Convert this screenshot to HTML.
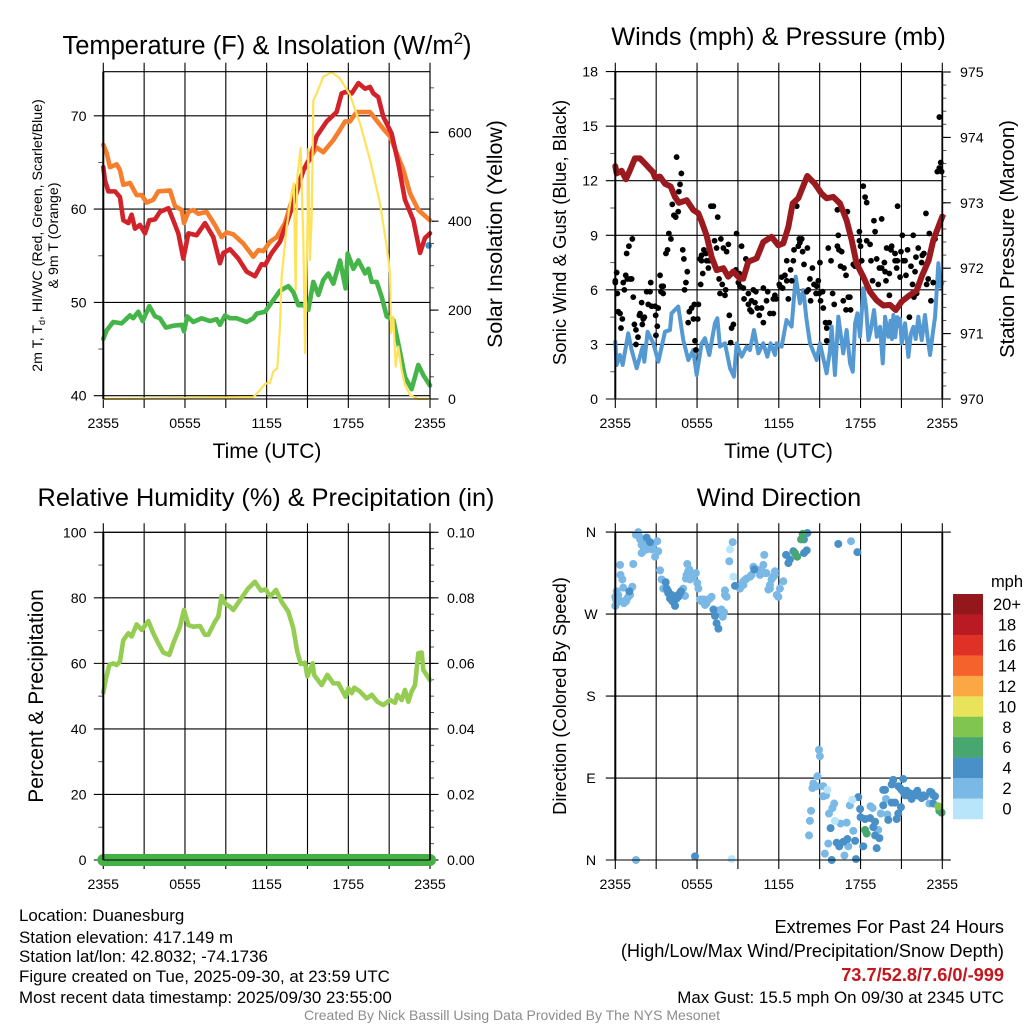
<!DOCTYPE html>
<html lang="en">
<head>
<meta charset="utf-8">
<title>Duanesburg Mesonet Meteogram</title>
<style>
html,body{margin:0;padding:0;background:#fff}
svg{display:block}
text{font-family:"Liberation Sans",Arial,sans-serif;fill:#000}
</style>
</head>
<body>
<svg id="fig" xmlns="http://www.w3.org/2000/svg" width="1024" height="1024" viewBox="0 0 1024 1024">
<rect x="0" y="0" width="1024" height="1024" fill="#fff"/>
<g id="layers"></g>

<text x="267" y="54" font-size="25.5" text-anchor="middle">Temperature (F) &amp; Insolation (W/m<tspan dy="-10" font-size="17">2</tspan><tspan dy="10">)</tspan></text>
<text x="778.5" y="45" font-size="25.3" text-anchor="middle">Winds (mph) &amp; Pressure (mb)</text>
<text x="266" y="506" font-size="25.3" text-anchor="middle">Relative Humidity (%) &amp; Precipitation (in)</text>
<text x="779" y="506" font-size="25.3" text-anchor="middle">Wind Direction</text>

<text x="267" y="458" font-size="21" text-anchor="middle">Time (UTC)</text>
<text x="778.5" y="458" font-size="21" text-anchor="middle">Time (UTC)</text>

<text transform="translate(42 235.5) rotate(-90)" font-size="14.2" text-anchor="middle">2m T, T<tspan dy="3" font-size="9">d</tspan><tspan dy="-3">, HI/WC (Red, Green, Scarlet/Blue)</tspan></text>
<text transform="translate(58 235.5) rotate(-90)" font-size="14.2" text-anchor="middle">&amp; 9m T (Orange)</text>
<text transform="translate(502 234) rotate(-90)" font-size="21.3" text-anchor="middle">Solar Insolation (Yellow)</text>
<text transform="translate(566 232.5) rotate(-90)" font-size="18.5" text-anchor="middle">Sonic Wind &amp; Gust (Blue, Black)</text>
<text transform="translate(1014 239) rotate(-90)" font-size="20.3" text-anchor="middle">Station Pressure (Maroon)</text>
<text transform="translate(43 696) rotate(-90)" font-size="21" text-anchor="middle">Percent &amp; Precipitation</text>
<text transform="translate(566 696) rotate(-90)" font-size="18.3" text-anchor="middle">Direction (Colored By Speed)</text>

<g font-size="16.9">
<text x="19" y="921">Location: Duanesburg</text>
<text x="19" y="943">Station elevation: 417.149 m</text>
<text x="19" y="962">Station lat/lon: 42.8032; -74.1736</text>
<text x="19" y="982">Figure created on Tue, 2025-09-30, at 23:59 UTC</text>
<text x="19" y="1003">Most recent data timestamp: 2025/09/30 23:55:00</text>
</g>
<g text-anchor="end">
<text x="1004" y="933" font-size="18.2">Extremes For Past 24 Hours</text>
<text x="1004" y="957" font-size="18.2">(High/Low/Max Wind/Precipitation/Snow Depth)</text>
<text x="1004" y="981" font-size="18.2" font-weight="bold" style="fill:#c4161c">73.7/52.8/7.6/0/-999</text>
<text x="1004" y="1003" font-size="16.9">Max Gust: 15.5 mph On 09/30 at 2345 UTC</text>
</g>
<text x="512" y="1020" font-size="14" text-anchor="middle" style="fill:#8c8c8c">Created By Nick Bassill Using Data Provided By The NYS Mesonet</text>
</svg>

<script>
// ---- Shared tick labels ----
const timeTickLabels = ['2355','0555','1155','1755','2355'];
const tempTicks = [70,60,50,40];
const solarTicks = [0,200,400,600];
const windTicks = [0,3,6,9,12,15,18];
const pressureTicks = [970,971,972,973,974,975];
const humidityTicks = [0,20,40,60,80,100];
const precipTicks = [0,0.02,0.04,0.06,0.08,0.10];
const directionTickLabels = ['N','E','S','W','N'];
const directionTickDegrees = [0,90,180,270,360];
const speedLegendLabels = ['20+','18','16','14','12','10','8','6','4','2','0'];
const speedLegendColors = ['#94171b','#ba1a24','#e03127','#f5622b','#fba844','#e8e35a','#7fc550','#47a76f','#4a90c8','#7ab8e6','#b8e5fa'];

// ---- Temperature panel data (hours since 2355, deg F) ----
const tempHours = [0,.12,.37,.86,1.22,1.47,1.84,2.08,2.33,2.69,3.06,3.38,3.8,4.16,4.78,5.14,5.51,5.88,6.25,6.86,7.47,8.08,8.57,8.82,9.31,9.92,10.53,11.14,11.63,11.88,12.37,12.98,13.47,13.96,14.7,15.18,15.67,16.41,17.14,17.51,17.88,18.25,18.74,19.23,19.59,19.84,20.2,20.57,21.18,21.67,22.16,22.78,23.27,23.63,24];
const tempValues = [64.5,63.1,61.9,61.9,61.3,58.8,58.5,59.4,57.9,58.3,57.4,58.8,58.9,59.7,60.1,58.8,57.4,54.7,57.4,57.2,58.5,57,54.2,55.3,55.7,54.7,53.3,52.8,54.1,54,55.3,56.5,58.5,60.6,64.2,65.4,67.8,69.4,70.4,72.4,72.6,72.4,73.5,72.9,73.1,72.4,72,69.9,68.1,64.9,61,58.8,55.3,56.9,57.4];
const temp9mHours = [0,.25,.49,.98,1.22,1.47,1.96,2.45,2.82,3.18,3.67,4.04,4.9,5.27,5.76,5.93,6.25,6.61,6.98,7.59,8.2,8.69,9.06,9.55,10.29,11.02,11.39,11.76,12.25,12.74,13.35,13.72,14.33,14.94,15.67,16.16,16.9,17.39,17.76,18.12,18.61,19.59,20.08,20.57,21.06,21.55,22.04,22.53,23.14,24];
const temp9mValues = [66.9,66,64.5,64.8,64.2,62.6,62.8,61.5,61.5,60.7,61,61.9,62,60.3,59.9,58.5,59.7,59.9,59.5,59.7,58.3,57,57.5,57.3,56.3,54.9,55.6,55.5,56.5,57,58.5,60.3,62.8,64.9,66.6,66.1,67.4,68.5,69.4,69.4,70.4,70.4,69.5,68.6,67.8,66,64.2,61.7,59.9,58.8];
const dewHours = [0,.24,.73,1.35,1.96,2.2,2.57,2.89,3.38,3.8,4.16,4.6,5.14,5.76,5.93,6.17,6.61,7.22,7.84,8.33,8.57,8.94,9.31,9.8,10.53,11.02,11.27,11.88,12.49,12.98,13.59,13.96,14.33,14.7,15.06,15.43,15.8,16.16,16.53,16.9,17.39,17.8,17.95,18.37,18.74,19.23,19.47,19.72,20.08,20.45,20.82,21.31,21.67,22.16,22.65,23.14,23.51,24];
const dewValues = [46.1,47,47.9,47.75,48.6,48.3,49,48,49.6,48.5,48.3,47.3,47.5,47.6,46.9,48.5,47.9,48.3,48,48.2,47.6,48.6,48.3,48.3,47.9,48.3,48.8,49,50.25,51.25,51.75,51.1,49.7,49.7,49.2,52.2,50.8,52.4,53.1,52,54.5,51.5,55.25,53.6,54.5,53.1,53.6,52.2,52.2,50.6,48.5,48.1,45.6,42,40.7,43.3,42.2,41.1];
const solarHours = [0,11.02,11.51,11.88,12.25,12.49,12.78,12.98,13.1,13.47,13.84,14,14.13,14.25,14.5,14.7,14.82,15,15.06,15.18,15.31,15.43,15.67,16.16,16.78,17.39,18.12,18.86,19.59,20.33,20.82,21.06,21.14,21.31,21.48,21.67,21.92,22.16,22.53,23.14,24];
const solarValues = [0,4,20,34,37,62,69,163,275,388,463,485,245,500,565,350,103,388,563,313,410,672,687,725,735,721,684,620,538,440,343,283,148,185,73,118,65,32,9,0,0];
const chillHours = [23.9];
const chillValues = [56.1];

// ---- Winds panel data ----
const windHours = [0,.1,.34,.54,.95,1.2,1.57,2.01,2.13,2.37,2.79,3.16,3.65,4.01,4.13,4.62,4.99,5.11,5.36,5.72,5.97,6.34,6.58,6.9,7.31,7.49,7.68,8.05,8.42,8.71,8.91,9.27,9.64,9.88,10.18,10.5,10.86,11.16,11.4,11.72,11.84,12.21,12.57,12.94,13.24,13.55,13.8,14.04,14.29,14.78,15.02,15.51,15.76,15.88,16.12,16.37,16.73,16.98,17.23,17.43,17.6,17.77,17.96,18.21,18.4,18.58,18.75,18.99,19.19,19.43,19.63,19.8,20.04,20.2,20.3,20.41,20.55,20.7,20.78,20.9,21.02,21.27,21.51,21.7,21.88,22.05,22.24,22.49,22.73,22.9,23.1,23.3,23.47,23.71,23.88,24];
const windValues = [3.15,1.87,2.42,1.87,3.61,2.69,1.69,2.88,2.05,3.7,3.06,2.05,3.7,3.79,4.71,5.08,3.24,2.88,2.14,2.69,1.32,3.06,3.34,2.42,4.16,4.44,2.88,3.06,1.69,1.23,3.06,2.33,2.88,2.69,3.79,2.51,3.06,2.33,3.06,2.42,3.06,2.88,4.34,3.98,6.73,5.26,5.99,4.34,3.06,2.14,3.06,1.41,2.69,3.98,1.32,4.53,2.51,3.79,1.96,1.5,4.16,4.71,3.42,6.08,5.07,3.24,3.79,4.89,3.42,3.97,1.96,4.52,3.42,4.3,3.3,4.62,3.4,4.5,4,4.4,3.06,4.16,2.32,3.6,3.97,3.3,4.52,3.24,4.62,3.5,2.42,3.6,4.52,7.46,6.17,6.4];
const gustMinutes = [0,6,0,9,13,21,31,25,50,60,75,46,53,65,72,35,40,79,116,109,106,128,123,119,84,91,100,91,156,138,153,145,160,175,189,178,185,179,197,211,204,201,211,223,230,236,245,270,291,285,280,251,277,258,266,297,302,317,311,305,366,348,336,326,321,344,363,351,355,421,432,451,465,437,446,498,476,490,380,373,390,399,380,402,414,410,385,376,457,471,486,461,483,502,520,512,508,534,556,575,531,527,546,542,549,564,567,586,608,619,600,586,593,600,615,625,644,652,671,666,634,652,681,696,703,696,708,722,733,747,755,725,737,755,772,777,762,787,799,810,821,813,806,825,846,784,831,868,901,857,894,875,887,850,843,884,898,913,860,904,916,926,942,931,931,938,950,957,964,978,982,978,985,997,992,1007,1016,1004,1026,1033,1016,1036,1048,1056,1022,1075,1075,1080,1092,1100,1107,1107,1122,1085,1092,1126,1151,1133,1158,1139,1144,1173,1163,1185,1173,1188,1207,1192,1207,1195,1217,1214,1232,1243,1232,1242,1239,1254,1258,1264,1268,1276,1280,1287,1312,1320,1295,1302,1309,1324,1334,1327,1315,1352,1359,1349,1368,1378,1378,1383,1371,1390,1400,1408,1427,1433,1418,1427,1437];
const gustValues = [6.4,6.95,6.5,5.8,4.8,4.7,4.4,3.9,8,8.4,8.8,6.8,6.6,6.6,6.6,6.4,6,5.6,5.3,4.7,4.6,4.5,4.4,4.1,4.1,3.8,3.4,3,6.4,5.9,5.9,5.2,5.1,5.1,5,4.6,4,3.5,6.8,6.2,6.2,5.9,5.8,8,8.2,9.1,8.8,13.3,12.4,11.8,11.4,10.7,10.3,10.1,10,8.2,7.7,7,6.4,6,5.2,5.2,5,4.8,4.2,4.4,4.4,3.2,2.7,10.6,10.6,10,8.8,8.7,8.3,8.5,8.3,8.1,7.9,7.7,8.2,8,7.6,7.6,7.6,7.2,6.9,6.3,6.6,6.3,6,5.8,5.7,4.6,4.1,3.9,3.1,9.1,8.4,7.7,7.1,7,6.9,6.4,6.2,6.1,5.5,5.8,6,5.9,5.4,5.2,4.9,4.8,5.3,5,5,6.1,5.9,5.4,4.6,4.2,4.7,4.7,5.7,5.5,5.5,6.3,6.7,6.8,7.6,6.2,6.1,6.5,7.1,6.5,5.5,8.2,10.6,8.8,8.8,8.6,8.4,8.1,8.3,7.6,7.4,7.2,7.5,6.6,6.5,6.3,6.2,6,5.9,5.8,5.8,5.9,5.4,5.4,5,4.2,4.2,3.9,3.2,8.3,7.6,5.8,5.2,10.4,9,8.4,8.2,8.1,7.3,7.2,6.8,5.4,5.6,5.6,4.9,4.9,7.4,7.3,10.3,9.2,8.7,8.4,11.7,11.1,10.8,8.7,8.5,7.6,6.7,7.6,7.7,6.5,6.3,9.8,9.2,9.9,7.2,7.5,7.2,7,6.9,6.5,5.7,8.3,8.4,8.2,8,10.6,7.6,7.6,7.2,6.7,8.1,9,7.6,7.6,6.8,8.2,9,7,4.5,7.3,6.3,7.8,8.3,5.8,5.6,7.9,8,7.5,10.2,7.6,6.6,9.1,6.3,5.4,6.4,8.8,15.5,13,12.5,12.7,12.5];
const pressureHours = [0,.1,.46,.78,1.08,1.44,1.81,2.18,2.76,2.91,3.28,3.65,4.06,4.38,4.67,5.24,5.72,6.09,6.34,6.7,7.07,7.44,7.93,8.29,8.66,9.15,9.39,9.76,10.37,10.86,11.47,11.96,12.33,12.7,13.02,13.43,14.09,14.65,15.14,15.51,16,16.49,16.98,17.35,17.71,18.2,18.69,19.18,19.67,20.16,20.58,21.02,21.5,22.12,22.48,23,23.34,24];
const pressureValues = [973.56,973.45,973.49,973.36,973.5,973.68,973.68,973.6,973.47,973.39,973.4,973.29,973.25,973.09,973,973.04,972.89,972.84,972.71,972.5,972.17,971.97,972,971.87,971.95,971.84,971.84,972.1,972.15,972.4,972.48,972.35,972.38,972.63,972.99,973.07,973.41,973.29,973.14,973.07,973.09,972.99,972.73,972.43,972.07,971.87,971.64,971.51,971.43,971.44,971.36,971.49,971.57,971.66,971.87,972.12,972.43,972.79];

// ---- Humidity panel data ----
const humidityHours = [0,.2,.44,.73,.98,1.22,1.47,1.84,2.08,2.45,2.82,3.31,3.67,4.04,4.41,4.85,5.14,5.63,5.93,6.25,6.61,7.1,7.47,7.71,8.2,8.45,8.69,8.94,9.31,9.55,10.04,10.65,11.14,11.58,11.93,12.25,12.69,13.1,13.59,13.96,14.25,14.5,14.82,14.99,15.38,15.48,16.04,16.46,16.9,17.27,17.8,18,18.25,18.44,18.86,19.35,19.72,20.13,20.57,21.06,21.43,21.6,21.92,22.16,22.41,22.65,22.9,23.14,23.39,23.51,24];
const humidityValues = [51.1,55.4,59.5,60,59.5,60.5,67.1,69.2,68.2,71.9,70.2,72.9,69.2,66.1,63.3,62.6,66.1,71.2,76.3,71.7,71.2,71.4,68.7,68.7,72.7,74.3,80.6,78.3,77.3,76.3,79.3,82.9,84.9,82.2,82.6,80.4,82.4,78.8,75.8,70.7,63.6,59.8,60.2,56,60,56.5,53.4,56.5,53.9,53.9,49.8,52.4,50.9,52.6,51.4,49.3,50.4,48.3,47.3,48.8,48,50.4,48.8,51.9,48.3,51.4,53.4,63.1,63.3,58,54.9];
const precipHours = [0,24];
const precipValues = [0,0];

// ---- Wind direction data (minutes since 2355, degrees), one pair of arrays per speed class ----
const dir2mphMinutes = [126,145,160,123,106,13,3,28,57,47,321,336,311,344,380,390,402,417,385,454,479,483,593,574,556,542,622,644,659,600,564,696,703,681,91,101,109,116,123,116,138,153,167,185,189,175,21,79,23,31,35,75,6,0,13,0,6,38,50,65,197,204,211,299,307,317,326,314,329,355,361,366,373,395,410,424,483,490,468,473,517,502,656,652,615,608,578,564,549,666,637,703,688,681,674,740,725,718,711,1038,897,901,890,872,868,887,916,916,928,862,857,853,964,956,941,1033,1048,992,1019,938,923,1009,1026,1124,1133,1169,1198,1192,1158,91,1383];
const dir2mphDegrees = [344,346,341,348,355,291,286,284,289,284,317,313,309,311,284,286,282,287,286,274,272,291,311,308,302,300,319,319,315,313,306,311,313,298,357,360,352,346,339,337,341,344,346,350,339,333,324,325,313,308,299,300,295,289,286,279,282,282,286,291,318,308,298,298,290,325,319,313,308,315,304,298,286,280,286,289,296,289,275,267,349,328,335,324,320,322,309,302,298,315,313,317,308,302,297,306,298,289,291,350,121,114,92,84,79,81,81,70,71,54,43,27,62,57,51,60,32,40,41,18,7,5,15,59,57,51,50,67,33,0,62];
const dir4mphMinutes = [233,248,258,277,289,230,1283,1298,1327,1342,1356,1386,1400,1261,1246,1312,138,153,222,226,233,241,248,252,263,270,277,285,62,432,439,446,454,527,612,752,762,769,784,843,831,846,831,982,1066,1070,948,1078,1080,1100,1122,1144,1136,1144,1163,1092,1151,1056,1022,1004,986,975,953,1060,1180,1217,1232,1180,1188,1224,1217,1202,1239,1246,1258,1268,1254,1268,1276,1283,1290,1298,1305,1320,1330,1334,1349,1364,1393,1408,1400,351];
const dir4mphDegrees = [293,286,284,289,295,296,76,70,71,70,71,75,71,77,81,71,354,349,305,298,295,287,291,284,279,287,291,293,295,275,268,260,254,301,319,335,326,330,339,340,337,359,352,347,338,69,35,56,47,45,46,42,36,27,24,15,13,21,23,20,15,19,0,1,60,63,63,77,77,88,83,44,45,51,58,89,79,75,71,73,71,73,67,73,76,71,68,70,74,70,62,4];
const dir0mphMinutes = [505,520,967,1044,934,512];
const dir0mphDegrees = [341,311,43,66,77,1];
const dir6mphMinutes = [825,818,791,801,1100,1107,1437,1427];
const dir6mphDegrees = [358,352,337,333,33,29,52,54];
const dir8mphMinutes = [1422];
const dir8mphDegrees = [59];

// ---- Panel frames (layout, not data) ----
const P1 = {l:103.3, r:430, t:71.7, b:399, rw:1.1};
const P2 = {l:615.3, r:942.3, t:71.7, b:399, rw:1.8};
const P3 = {l:103.3, r:430, t:532.3, b:860, rw:1.6};
const P4 = {l:615.3, r:942.3, t:532.3, b:860, rw:1.8};

// ---- Axis functions ----
const xHours = (p, h) => p.l + h / 24 * (p.r - p.l);
const xMinutes = (p, m) => xHours(p, m / 60);
const yTemp = f => 395.7 - (f - 40) * 9.33;
const ySolar = w => 399 - w * 0.4445;
const yWind = v => 399 - v * 18.19;
const yPressure = mb => 399 - (mb - 970) * 65.4;
const yHumidity = r => 860 - r * 3.277;
const yPrecip = v => 860 - v * 3277;
const yDirection = d => 860 - d * 0.9108;

const NS = 'http://www.w3.org/2000/svg';
const root = document.getElementById('layers');
function mk(tag, attrs, parent) {
  const el = document.createElementNS(NS, tag);
  for (const k in attrs) el.setAttribute(k, attrs[k]);
  (parent || root).appendChild(el);
  return el;
}
function group(name, parent) {
  const g = mk('g', {}, parent);
  
  
  return g;
}
function linePath(hours, values, xf, yf) {
  return hours.map((h, i) => (i ? 'L' : 'M') + xf(h).toFixed(2) + ' ' + yf(values[i]).toFixed(2)).join('');
}

function drawGrid(p, prefix, yVals, yf, minorLeft, minorRight, majorRight) {
  const g = group(prefix + '-grid');
  for (let i = 0; i <= 8; i++) {
    const x = xHours(p, i * 3);
    const v = mk('line', {x1:x, x2:x, y1:p.t - 9, y2:p.b + 9, stroke:'#000', 'stroke-width':1.1}, g);
    
    
  }
  yVals.forEach(val => {
    const y = yf(val);
    const h = mk('line', {x1:p.l - 9.5, x2:p.r, y1:y, y2:y, stroke:'#000', 'stroke-width':1.1}, g);
    
    
  });
  minorLeft.forEach(y => {
    const t = mk('line', {x1:p.l - 5, x2:p.l, y1:y, y2:y, stroke:'#555', 'stroke-width':1}, g);
    
    
  });
  minorRight.forEach(y => {
    const t = mk('line', {x1:p.r, x2:p.r + 4, y1:y, y2:y, stroke:'#555', 'stroke-width':1}, g);
    
    
  });
  majorRight.forEach(y => {
    const t = mk('line', {x1:p.r, x2:p.r + 8.5, y1:y, y2:y, stroke:'#000', 'stroke-width':1.1}, g);
    
    
  });
  timeTickLabels.forEach((s, i) => {
    const t = mk('text', {x:xHours(p, i * 6), y:p.b + 29, 'font-size':14.2, 'text-anchor':'middle'}, root);
    t.textContent = s;
    
    
  });
}
function drawFrame(p, prefix) {
  const g = group(prefix + '-frame');
  const a = mk('line', {x1:p.l, x2:p.l, y1:p.t, y2:p.b, stroke:'#000', 'stroke-width':2}, g);
  
  
  const b = mk('line', {x1:p.r, x2:p.r, y1:p.t, y2:p.b, stroke:'#000', 'stroke-width':p.rw}, g);
  
  
  const c = mk('line', {x1:p.l, x2:p.r, y1:p.t, y2:p.t, stroke:'#000', 'stroke-width':1.1}, g);
  
  
  const d = mk('line', {x1:p.l, x2:p.r, y1:p.b, y2:p.b, stroke:'#000', 'stroke-width':1.1}, g);
  
  
}
function tickText(x, y, str, anchor) {
  const t = mk('text', {x:x, y:y, 'font-size':14.2, 'text-anchor':anchor}, root);
  t.textContent = str;
  return t;
}
function range(a, b, step) {
  const out = [];
  for (let v = a; v <= b + 1e-9; v += step) out.push(v);
  return out;
}

// ---- Panel 1: temperature & insolation ----
drawGrid(P1, 'temperature', tempTicks, yTemp,
  [45,55,65].map(yTemp),
  range(0, 700, 50).map(ySolar),
  solarTicks.map(ySolar));
tempTicks.forEach(v => {
  const t = tickText(86.5, yTemp(v) + 5, String(v), 'end');
  
  
});
solarTicks.forEach(v => {
  const t = tickText(448, ySolar(v) + 5, String(v), 'start');
  
  
});
const xp1 = h => xHours(P1, h);
const dewLine = mk('path', {d:linePath(dewHours, dewValues, xp1, yTemp), fill:'none', stroke:'#45b549', 'stroke-width':4.6, 'stroke-linejoin':'round', 'stroke-linecap':'round'});


const t9Line = mk('path', {d:linePath(temp9mHours, temp9mValues, xp1, yTemp), fill:'none', stroke:'#f67f2e', 'stroke-width':4.6, 'stroke-linejoin':'round', 'stroke-linecap':'round'});


const t2Line = mk('path', {d:linePath(tempHours, tempValues, xp1, yTemp), fill:'none', stroke:'#d2232a', 'stroke-width':4.6, 'stroke-linejoin':'round', 'stroke-linecap':'round'});


const solarLine = mk('path', {d:linePath(solarHours, solarValues, xp1, ySolar), fill:'none', stroke:'#fde25a', 'stroke-width':2.2, 'stroke-linejoin':'round'});


chillHours.forEach((h, i) => {
  const c = mk('circle', {cx:xp1(h), cy:yTemp(chillValues[i]), r:3.3, fill:'#4292c6'});
  
  
});
drawFrame(P1, 'temperature');

// ---- Panel 2: winds & pressure ----
drawGrid(P2, 'winds', windTicks, yWind,
  range(1.5, 16.5, 3).map(yWind),
  range(970, 975, 0.2).map(yPressure),
  pressureTicks.map(yPressure));
windTicks.forEach(v => {
  const t = tickText(598, yWind(v) + 5, String(v), 'end');
  
  
});
pressureTicks.forEach(v => {
  const t = tickText(960, yPressure(v) + 5, String(v), 'start');
  
  
});
const xp2 = h => xHours(P2, h);
const windLine = mk('path', {d:linePath(windHours, windValues, xp2, yWind), fill:'none', stroke:'#5599d3', 'stroke-width':4, 'stroke-linejoin':'round', 'stroke-linecap':'round'});


const gustGroup = group('wind-gust-points');
gustMinutes.forEach((m, i) => {
  const c = mk('circle', {cx:xMinutes(P2, m), cy:yWind(gustValues[i]), r:2.9, fill:'#000'}, gustGroup);
  
  
});
const pressureLine = mk('path', {d:linePath(pressureHours, pressureValues, xp2, yPressure), fill:'none', stroke:'#9a1a1f', 'stroke-width':6, 'stroke-linejoin':'round', 'stroke-linecap':'round'});


drawFrame(P2, 'winds');

// ---- Panel 3: humidity & precipitation ----
drawGrid(P3, 'humidity', humidityTicks, yHumidity,
  range(10, 90, 20).map(yHumidity),
  range(0, 0.1, 0.005).map(yPrecip),
  precipTicks.map(yPrecip));
humidityTicks.forEach(v => {
  const t = tickText(86.5, yHumidity(v) + 5, String(v), 'end');
  
  
});
precipTicks.forEach(v => {
  const t = tickText(447, yPrecip(v) + 5, v.toFixed(2), 'start');
  
  
});
const xp3 = h => xHours(P3, h);
const precipLine = mk('path', {d:linePath(precipHours, precipValues, xp3, yPrecip), fill:'none', stroke:'#45b045', 'stroke-width':12, 'stroke-linecap':'round'});


const humidityLine = mk('path', {d:linePath(humidityHours, humidityValues, xp3, yHumidity), fill:'none', stroke:'#94cd52', 'stroke-width':4.6, 'stroke-linejoin':'round', 'stroke-linecap':'round'});


drawFrame(P3, 'humidity');

// ---- Panel 4: wind direction ----
drawGrid(P4, 'direction', directionTickDegrees, yDirection, [], [], directionTickDegrees.map(yDirection));
directionTickLabels.forEach((s, i) => {
  const t = tickText(591, yDirection(directionTickDegrees[i]) + 5, s, 'middle');
  
  
});
const reversedColors = speedLegendColors.slice().reverse();
const dirGroup = group('wind-direction-points');
function drawDirectionClass(minutes, degrees, bin) {
  minutes.forEach((m, i) => {
    const c = mk('circle', {cx:xMinutes(P4, m), cy:yDirection(degrees[i]), r:4, fill:reversedColors[bin]}, dirGroup);
    
    
  });
}
drawDirectionClass(dir2mphMinutes, dir2mphDegrees, 1);
drawDirectionClass(dir4mphMinutes, dir4mphDegrees, 2);
drawDirectionClass(dir0mphMinutes, dir0mphDegrees, 0);
drawDirectionClass(dir6mphMinutes, dir6mphDegrees, 3);
drawDirectionClass(dir8mphMinutes, dir8mphDegrees, 4);
drawFrame(P4, 'direction');

// ---- Speed legend ----
const legend = group('speed-legend');
const unit = mk('text', {x:1007, y:587, 'font-size':16.5, 'text-anchor':'middle'}, legend);
unit.textContent = 'mph';


speedLegendLabels.forEach((s, i) => {
  const box = mk('rect', {x:953, y:594 + i * 20.46, width:30, height:20.7, fill:speedLegendColors[i]}, legend);
  
  
  const t = mk('text', {x:1007, y:594 + i * 20.46 + 16, 'font-size':16.5, 'text-anchor':'middle'}, legend);
  t.textContent = s;
  
  
});
</script>
</body>
</html>
